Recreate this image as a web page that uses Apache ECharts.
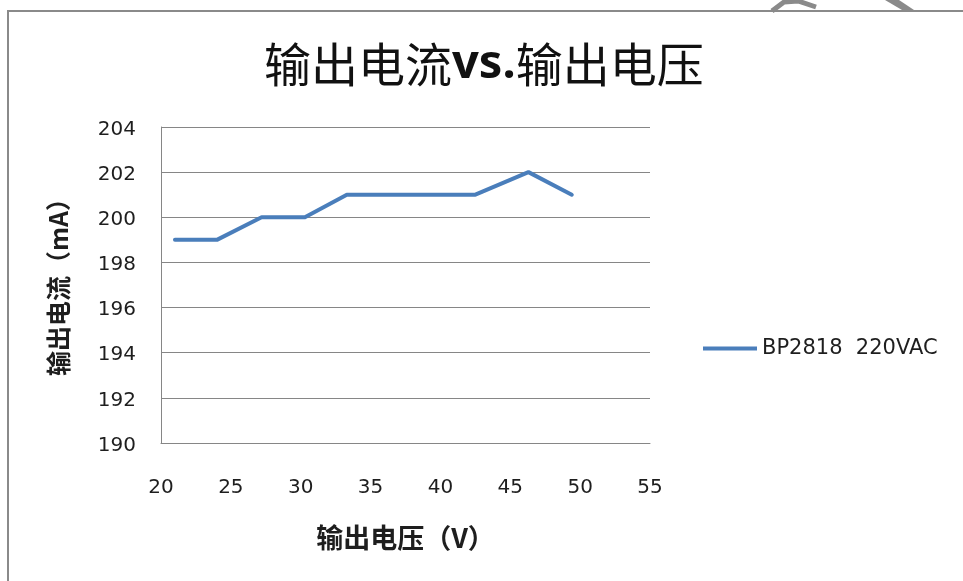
<!DOCTYPE html>
<html>
<head>
<meta charset="utf-8">
<script src="https://cdn.jsdelivr.net/npm/echarts@6/dist/echarts.min.js"></script>
<style>
html,body{margin:0;padding:0;background:#fff;}
#chart{width:963px;height:581px;}
</style>
</head>
<body>
<div id="chart"></div>
<script>
// Data
const seriesName = 'BP2818  220VAC';
const voltage = [21.0, 24.0, 27.2, 30.3, 33.3, 36.4, 39.4, 42.5, 46.3, 49.4];
const current = [199, 199, 200, 200, 201, 201, 201, 201, 202, 201];
const titleParts = ['输出电流', 'vs.', '输出电压'];
const xName = '输出电压（V）';
const yName = '输出电流（mA）';
const xMin = 20, xMax = 55, xStep = 5;
const yMin = 190, yMax = 204, yStep = 2;

const points = voltage.map((v, i) => [v, current[i]]);
const gridColor = '#868686';
const textColor = '#1e1e1e';
const latinFont = '"DejaVu Sans", sans-serif';

const chart = echarts.init(document.getElementById('chart'), null, {renderer: 'canvas'});
chart.setOption({
  animation: false,
  backgroundColor: '#fff',
  title: {
    text: '{a|' + titleParts[0] + '}{b|' + titleParts[1] + '}{a|' + titleParts[2] + '}',
    left: 259,
    top: 36,
    textStyle: {
      rich: {
        a: {fontFamily: '"Noto Sans CJK SC"', fontSize: 47, color: '#111', fontWeight: 'normal'},
        b: {fontFamily: '"Noto Sans", sans-serif', fontSize: 47, color: '#111', fontWeight: 'bold'}
      }
    }
  },
  legend: {
    left: 698,
    top: 333,
    itemWidth: 54,
    itemHeight: 4,
    textStyle: {fontFamily: latinFont, fontSize: 21, color: textColor},
    data: [{name: seriesName, icon: 'rect'}]
  },
  grid: {left: 161, right: 313, top: 127, bottom: 138, containLabel: false},
  xAxis: {
    type: 'value',
    min: xMin, max: xMax, interval: xStep,
    name: xName,
    nameLocation: 'middle',
    nameGap: 81,
    nameTextStyle: {fontFamily: '"Noto Sans CJK SC"', fontSize: 27, fontWeight: 'bold', color: textColor},
    axisLine: {show: true, lineStyle: {color: gridColor, width: 1}},
    axisTick: {show: false},
    splitLine: {show: false},
    axisLabel: {margin: 35, fontFamily: latinFont, fontSize: 20, color: textColor}
  },
  yAxis: {
    type: 'value',
    min: yMin, max: yMax, interval: yStep,
    name: yName,
    nameLocation: 'middle',
    nameGap: 90,
    nameRotate: 90,
    nameTextStyle: {fontFamily: '"Noto Sans CJK SC"', fontSize: 25, fontWeight: 'bold', color: textColor, padding: [0, 0, 0, 8]},
    axisLine: {show: true, lineStyle: {color: gridColor, width: 1}},
    axisTick: {show: false},
    splitLine: {show: true, lineStyle: {color: gridColor, width: 1}},
    axisLabel: {
      margin: 25,
      formatter: '{v|{value}}',
      rich: {v: {padding: [5, 0, 0, 0], fontFamily: latinFont, fontSize: 20, color: textColor}}
    }
  },
  series: [{
    name: seriesName,
    type: 'line',
    data: points,
    symbol: 'none',
    lineStyle: {color: '#4a7ebb', width: 4, cap: 'round', join: 'round'},
    itemStyle: {color: '#4a7ebb'}
  }],
  graphic: [
    {type: 'rect', silent: true, shape: {x: 8, y: 11, width: 1000, height: 620},
     style: {fill: 'none', stroke: '#8a8a8a', lineWidth: 2}},
    {type: 'polyline', silent: true, shape: {points: [[772, 11], [784, 2], [798, 1], [816, 7]]},
     style: {fill: 'none', stroke: '#8a8a8a', lineWidth: 5}},
    {type: 'polygon', silent: true, shape: {points: [[885, 0], [899, 0], [914, 10], [902, 10]]},
     style: {fill: '#8a8a8a'}}
  ]
});
</script>
</body>
</html>
